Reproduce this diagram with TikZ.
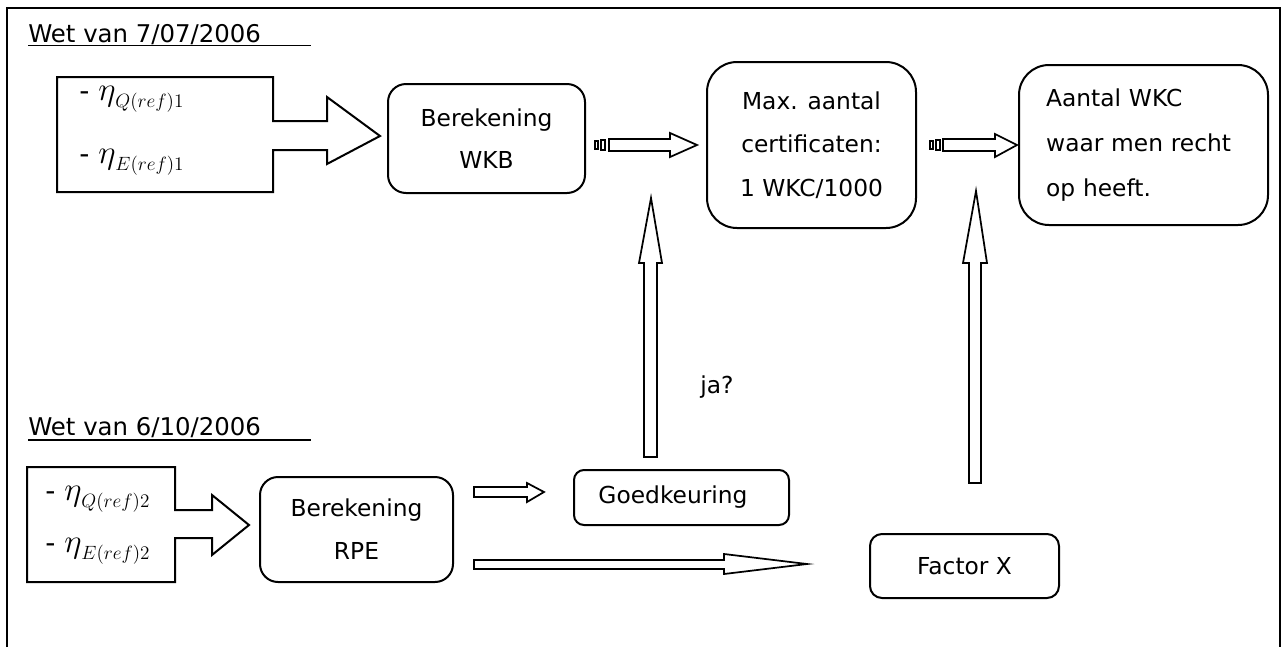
\documentclass[tikz,border=0pt]{standalone}
\usepackage{graphicx}
\usepackage{fontspec}
\setmainfont{DejaVu Sans}
\usetikzlibrary{calc}
\newcommand{\bigeta}{\scalebox{1.2}{$\eta$}}
\begin{document}
\begin{tikzpicture}[x=0.75pt,y=-0.75pt,
  txt/.style={font=\fontsize{17.5}{33}\selectfont},
  boxr/.style={draw,line width=1.5pt,rounded corners=#1,align=center,inner sep=0pt},
  blk/.style={draw,fill=white,line width=1.3pt,line join=miter},
  titel/.style={font=\fontsize{18.3}{33}\selectfont,anchor=base west,inner sep=0pt},
  eta/.style={anchor=base west,inner sep=0pt,font=\fontsize{21}{24}\selectfont}
]
\useasboundingbox (0,0) rectangle (1285,647);
% frame
\draw[line width=1.5pt] (7,647) -- (7,8) -- (1280,8) -- (1280,647);

% titles
\node[titel] (t1) at (28,42) {Wet van 7/07/2006};
\draw[line width=1.1pt] ($(t1.base west)+(0,3.5)$) -- ++(283,0);
\node[titel] (t2) at (28,435) {Wet van 6/10/2006};
\draw[line width=1.1pt] ($(t2.base west)+(0,5)$) -- ++(283,0);

% input box 1 with block arrow
\draw[line width=1.5pt,line join=miter] (57,77) -- (273,77) -- (273,121) -- (327,121) -- (327,97) -- (380,136)
  -- (327,164) -- (327,150) -- (273,150) -- (273,192) -- (57,192) -- cycle;
\node[eta] (q1) at (79,100) {-\ $\bigeta_{Q(ref)1}$};
\node[eta] (e1) at (79,163) {-\ $\bigeta_{E(ref)1}$};

% input box 2 with block arrow
\draw[line width=1.5pt,line join=miter] (27,467) -- (175,467) -- (175,510) -- (212,510) -- (212,495) -- (249,525)
  -- (212,555) -- (212,538) -- (175,538) -- (175,582) -- (27,582) -- cycle;
\node[eta] (q2) at (45,500) {-\ $\bigeta_{Q(ref)2}$};
\node[eta] (e2) at (45,552) {-\ $\bigeta_{E(ref)2}$};

% boxes
\node[boxr=13.5pt,minimum width=147.75pt,minimum height=81.75pt,
  font=\fontsize{17.5}{31.5}\selectfont] (wkb) at (486.5,138.5) {Berekening\\WKB};
\node[boxr=22.5pt,minimum width=156.75pt,minimum height=124.5pt,
  font=\fontsize{17.5}{32.6}\selectfont] (maxb) at (811.5,145) {Max. aantal\\certificaten:\\1 WKC/1000};
\node[boxr=22.5pt,minimum width=186.75pt,minimum height=120pt,text width=146pt,align=left,
  font=\fontsize{17.5}{33.75}\selectfont] (aantal) at (1143.5,145) {Aantal WKC\\waar men recht\\op heeft.};
\node[boxr=13.5pt,minimum width=144.75pt,minimum height=78.75pt,
  font=\fontsize{17.5}{32.25}\selectfont] (rpe) at (356.5,529.5) {Berekening\\RPE};
\node[boxr=7.5pt,minimum width=161.25pt,minimum height=41.25pt,txt] (goed) at (681.5,497.5) {Goedkeuring\hspace{12.75pt}};
\node[boxr=9pt,minimum width=141.75pt,minimum height=48pt,txt] (fx) at (964.5,566) {Factor X};
\node[txt,inner sep=0pt] (ja) at (717,387) {ja?};

% striped block arrow wkb -> maxb
\draw[blk] (595,141) rectangle (598,149);
\draw[blk] (601,140) rectangle (605,150);
\draw[blk] (609,139) -- (670,139) -- (670,133) -- (697,145) -- (670,157) -- (670,151) -- (609,151) -- cycle;
% striped block arrow maxb -> aantal
\draw[blk] (930,141) rectangle (933,149);
\draw[blk] (936,140) rectangle (940,150);
\draw[blk] (943,139) -- (995,139) -- (995,134) -- (1017,145) -- (995,157) -- (995,151) -- (943,151) -- cycle;

% vertical arrow goed -> (wkb/maxb)
\draw[blk] (644,457) -- (644,263) -- (639,263) -- (651,198) -- (662,263) -- (657,263) -- (657,457) -- cycle;
% vertical arrow fx -> aantal
\draw[blk] (969,483) -- (969,263) -- (963,263) -- (976,191) -- (987,263) -- (981,263) -- (981,483) -- cycle;

% rpe -> goed
\draw[blk] (474,487) -- (527,487) -- (527,483) -- (544,492) -- (527,502) -- (527,497) -- (474,497) -- cycle;
% rpe -> fx
\draw[blk] (474,560) -- (724,560) -- (724,554) -- (807,564) -- (724,574) -- (724,569) -- (474,569) -- cycle;
\end{tikzpicture}
\end{document}
